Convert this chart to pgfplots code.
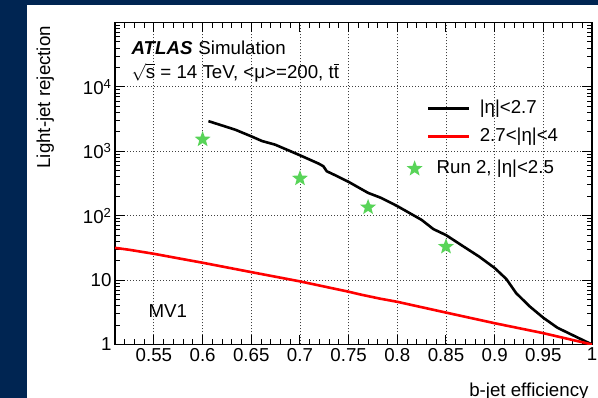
\documentclass[border=0pt]{standalone}
\usepackage{pgfplots}
\pgfplotsset{compat=1.18}
\usepackage{fontspec}
\setmainfont{Liberation Sans}
\definecolor{navybg}{RGB}{0,37,82}
\definecolor{stargreen}{RGB}{88,212,88}
\pgfdeclareplotmark{fstar}{%
  \pgfpathmoveto{\pgfpointpolar{90}{\pgfplotmarksize}}%
  \pgfpathlineto{\pgfpointpolar{126}{0.42\pgfplotmarksize}}%
  \pgfpathlineto{\pgfpointpolar{162}{\pgfplotmarksize}}%
  \pgfpathlineto{\pgfpointpolar{198}{0.42\pgfplotmarksize}}%
  \pgfpathlineto{\pgfpointpolar{234}{\pgfplotmarksize}}%
  \pgfpathlineto{\pgfpointpolar{270}{0.42\pgfplotmarksize}}%
  \pgfpathlineto{\pgfpointpolar{306}{\pgfplotmarksize}}%
  \pgfpathlineto{\pgfpointpolar{342}{0.42\pgfplotmarksize}}%
  \pgfpathlineto{\pgfpointpolar{18}{\pgfplotmarksize}}%
  \pgfpathlineto{\pgfpointpolar{54}{0.42\pgfplotmarksize}}%
  \pgfpathclose\pgfusepathqfill}
\newcommand{\fs}{\fontsize{18.7}{22}\selectfont}
\pgfplotsset{
  linelegend/.style={legend image code/.code={\draw[##1] (0pt,0pt) -- (41pt,0pt);}},
  starlegend/.style={legend image code/.code={\draw[##1] plot coordinates {(8.4pt,0pt)};}},
}
\begin{document}
\begin{tikzpicture}
\useasboundingbox (0,0) rectangle (598pt,398pt);
\fill[navybg] (0,0) rectangle (598pt,398pt);
\fill[white] (27pt,0) rectangle (598pt,393pt);
\begin{axis}[
  at={(115pt,53.5pt)}, anchor=south west,
  scale only axis, width=477pt, height=322pt,
  xmin=0.51, xmax=1, ymode=log, ymin=1, ymax=1e5,
  xtick={0.55,0.6,0.65,0.7,0.75,0.8,0.85,0.9,0.95,1},
  xticklabels={0.55,0.6,0.65,0.7,0.75,0.8,0.85,0.9,0.95,1},
  minor xtick={0.51,0.52,0.53,0.54,0.56,0.57,0.58,0.59,0.61,0.62,0.63,0.64,0.66,0.67,0.68,0.69,0.71,0.72,0.73,0.74,0.76,0.77,0.78,0.79,0.81,0.82,0.83,0.84,0.86,0.87,0.88,0.89,0.91,0.92,0.93,0.94,0.96,0.97,0.98,0.99},
  ytick={1,10,100,1000,10000},
  yticklabels={1,10,10\textsuperscript{2},10\textsuperscript{3},10\textsuperscript{4}},
  minor ytick={2,3,4,5,6,7,8,9,20,30,40,50,60,70,80,90,200,300,400,500,600,700,800,900,2000,3000,4000,5000,6000,7000,8000,9000,20000,30000,40000,50000,60000,70000,80000,90000},
  tick align=inside, xtick pos=both, ytick pos=both,
  xticklabel pos=bottom, yticklabel pos=left,
  major tick length=10pt, minor tick length=5.5pt,
  every tick/.style={black, line width=1pt},
  grid=major,
  major grid style={black!75, line width=0.9pt, dash pattern=on 1pt off 2pt},
  axis line style={line width=1.3pt},
  tick label style={font=\fs},
  label style={font=\fs},
  xlabel={b-jet efficiency}, ylabel={Light-jet rejection},
  xlabel style={at={(rel axis cs:1,-0.16)}, anchor=base east},
  ylabel style={at={(rel axis cs:-0.136,1)}, anchor=base east},
  legend style={at={(rel axis cs:0.654,0.763)}, anchor=north west, draw=none, fill=none,
    inner sep=0pt, row sep=9pt, font=\fs,
    nodes={inner sep=0pt, text height=14pt, text depth=5pt},
    /tikz/every odd column/.append style={column sep=9pt}},
  legend cell align=left,
]
\addplot[black, line width=2.6pt, line join=round, linelegend] coordinates {
(0.606,2940) (0.6335,2165) (0.65,1707) (0.661,1444) (0.6745,1268) (0.70,867)
(0.719,646) (0.724,587) (0.7275,490) (0.736,426) (0.75,335) (0.770,226)
(0.783,190) (0.8,141) (0.825,86) (0.837,62) (0.85,50) (0.867,34) (0.884,23.2)
(0.9,15.4) (0.912,10.4) (0.922,6.3) (0.936,3.9) (0.95,2.6) (0.9645,1.82)
(0.98,1.40) (1.0,1.0)
};
\addlegendentry{|η|<2.7}
\addplot[red, line width=2.6pt, line join=round, linelegend] coordinates {
(0.51,31.7) (0.525,29.5) (0.55,25.6) (0.575,21.8) (0.6,18.6) (0.65,13.3)
(0.70,9.55) (0.75,6.6) (0.7615,6.0) (0.782,5.16) (0.8,4.6) (0.85,3.13)
(0.9,2.14) (0.95,1.5) (1.0,1.0)
};
\addlegendentry{2.7<|η|<4}
\node[anchor=base west, font=\fs] at (rel axis cs:0.0273,0.902) {\textbf{\textit{ATLAS}}\hspace{6pt}Simulation};
\node[anchor=base west, font=\fs] at (rel axis cs:0.0273,0.8276) {$\sqrt{\hbox{s}}$ = 14 TeV, <μ>=200, t$\overline{\hbox{t}}$};
\node[anchor=base west, font=\fs] at (rel axis cs:0.0629,0.0845) {MV1};
\end{axis}
\begin{axis}[
  at={(115pt,53.5pt)}, anchor=south west,
  scale only axis, width=477pt, height=322pt,
  xmin=0.51, xmax=1, ymode=log, ymin=1, ymax=1e5,
  hide axis,
  legend style={at={(rel axis cs:0.611,0.576)}, anchor=north west, draw=none, fill=none,
    inner sep=0pt, font=\fs,
    nodes={inner sep=0pt, text height=14pt, text depth=5pt},
    /tikz/every odd column/.append style={column sep=14pt}},
  legend cell align=left,
]
\addplot[only marks, mark=fstar, mark size=8.4pt, color=stargreen, fill=stargreen, starlegend] coordinates {
(0.6,1530) (0.7,379) (0.77,135) (0.85,33)
};
\addlegendentry{Run 2, |η|<2.5}
\end{axis}
\end{tikzpicture}
\end{document}
